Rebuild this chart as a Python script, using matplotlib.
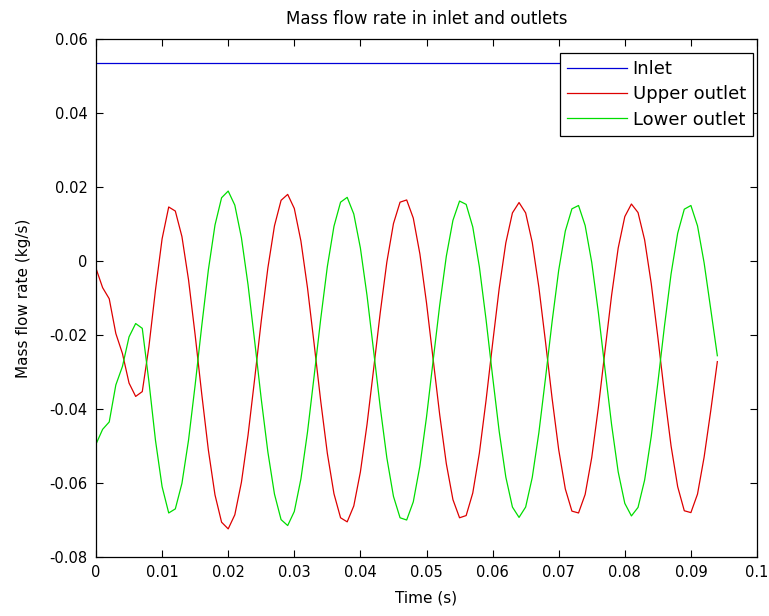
import numpy as np
import matplotlib
matplotlib.use("Agg")
from matplotlib import pyplot as plt

# sampled every 1 ms, 0 .. 0.094 s
time = np.linspace(0, 0.094, 95)

inlet_rate = 0.0535

upper_outlet = [
    -0.0020, -0.0072, -0.0102, -0.0196, -0.0250, -0.0330, -0.0366, -0.0353, -0.0232, -0.0078,
    0.0060, 0.0146, 0.0135, 0.0066, -0.0051, -0.0200, -0.0360, -0.0511, -0.0632, -0.0706,
    -0.0724, -0.0686, -0.0598, -0.0471, -0.0319, -0.0162, -0.0019, 0.0095, 0.0164, 0.0180,
    0.0142, 0.0054, -0.0073, -0.0224, -0.0379, -0.0520, -0.0629, -0.0694, -0.0705, -0.0662,
    -0.0570, -0.0442, -0.0292, -0.0140, -0.0003, 0.0101, 0.0159, 0.0165, 0.0116, 0.0019,
    -0.0113, -0.0265, -0.0416, -0.0548, -0.0645, -0.0694, -0.0688, -0.0627, -0.0519, -0.0378,
    -0.0223, -0.0074, 0.0049, 0.0130, 0.0158, 0.0130, 0.0050, -0.0071, -0.0218, -0.0371,
    -0.0510, -0.0616, -0.0676, -0.0681, -0.0631, -0.0531, -0.0396, -0.0243, -0.0093, 0.0035,
    0.0120, 0.0154, 0.0131, 0.0057, -0.0061, -0.0206, -0.0359, -0.0500, -0.0610, -0.0675,
    -0.0680, -0.0630, -0.0530, -0.0405, -0.0272,
]

lower_outlet = [
    -0.0495, -0.0455, -0.0435, -0.0335, -0.0285, -0.0205, -0.0169, -0.0182, -0.0325, -0.0485,
    -0.0610, -0.0681, -0.0670, -0.0601, -0.0484, -0.0335, -0.0175, -0.0024, 0.0097, 0.0171,
    0.0189, 0.0151, 0.0063, -0.0064, -0.0216, -0.0373, -0.0516, -0.0630, -0.0699, -0.0715,
    -0.0677, -0.0589, -0.0462, -0.0311, -0.0156, -0.0015, 0.0094, 0.0159, 0.0172, 0.0127,
    0.0035, -0.0093, -0.0243, -0.0395, -0.0532, -0.0636, -0.0694, -0.0700, -0.0651, -0.0554,
    -0.0422, -0.0270, -0.0119, 0.0013, 0.0110, 0.0162, 0.0153, 0.0092, -0.0016, -0.0157,
    -0.0312, -0.0461, -0.0584, -0.0665, -0.0693, -0.0665, -0.0585, -0.0464, -0.0317, -0.0164,
    -0.0025, 0.0081, 0.0141, 0.0150, 0.0096, -0.0004, -0.0139, -0.0292, -0.0442, -0.0570,
    -0.0655, -0.0689, -0.0666, -0.0592, -0.0474, -0.0329, -0.0176, -0.0035, 0.0075, 0.0140,
    0.0150, 0.0095, -0.0005, -0.0130, -0.0256,
]

x_ticks = [0, 0.01, 0.02, 0.03, 0.04, 0.05, 0.06, 0.07, 0.08, 0.09, 0.1]
x_tick_labels = ['0', '0.01', '0.02', '0.03', '0.04', '0.05', '0.06', '0.07', '0.08', '0.09', '0.1']
y_ticks = [-0.08, -0.06, -0.04, -0.02, 0, 0.02, 0.04, 0.06]
y_tick_labels = ['-0.08', '-0.06', '-0.04', '-0.02', '0', '0.02', '0.04', '0.06']

plt.rcParams['font.family'] = ['DejaVu Sans']
fs = 10.5

fig = plt.figure(figsize=(7.69, 6.16), dpi=100)
ax = fig.add_axes([96 / 769, 1 - 557 / 616, 661 / 769, 518 / 616])

ax.plot(time, np.full(len(time), inlet_rate), color='#0000d8', lw=0.9, label='Inlet')
ax.plot(time, upper_outlet, color='#dd0000', lw=0.9, label='Upper outlet')
ax.plot(time, lower_outlet, color='#00dd00', lw=0.9, label='Lower outlet')

ax.set_xlim(0, 0.1)
ax.set_ylim(-0.08, 0.06)
ax.set_xticks(x_ticks)
ax.set_xticklabels(x_tick_labels, fontsize=fs)
ax.set_yticks(y_ticks)
ax.set_yticklabels(y_tick_labels, fontsize=fs)
ax.tick_params(direction='in', length=5, width=0.8, top=True, right=True, pad=6)
for s in ax.spines.values():
    s.set_linewidth(0.9)

ax.set_title('Mass flow rate in inlet and outlets', fontsize=12, pad=11)
ax.set_xlabel('Time (s)', fontsize=11, labelpad=7)
ax.set_ylabel('Mass flow rate (kg/s)', fontsize=11, labelpad=13)

leg = ax.legend(loc='upper right', bbox_to_anchor=((753 - 96) / 661, 1 - 14 / 518),
                borderaxespad=0, fontsize=13, fancybox=False, framealpha=1,
                edgecolor='black', handlelength=3.3, handletextpad=0.33,
                labelspacing=0.4, borderpad=0.4)
leg.get_frame().set_linewidth(0.9)

fig.savefig('out.png', dpi=100)
